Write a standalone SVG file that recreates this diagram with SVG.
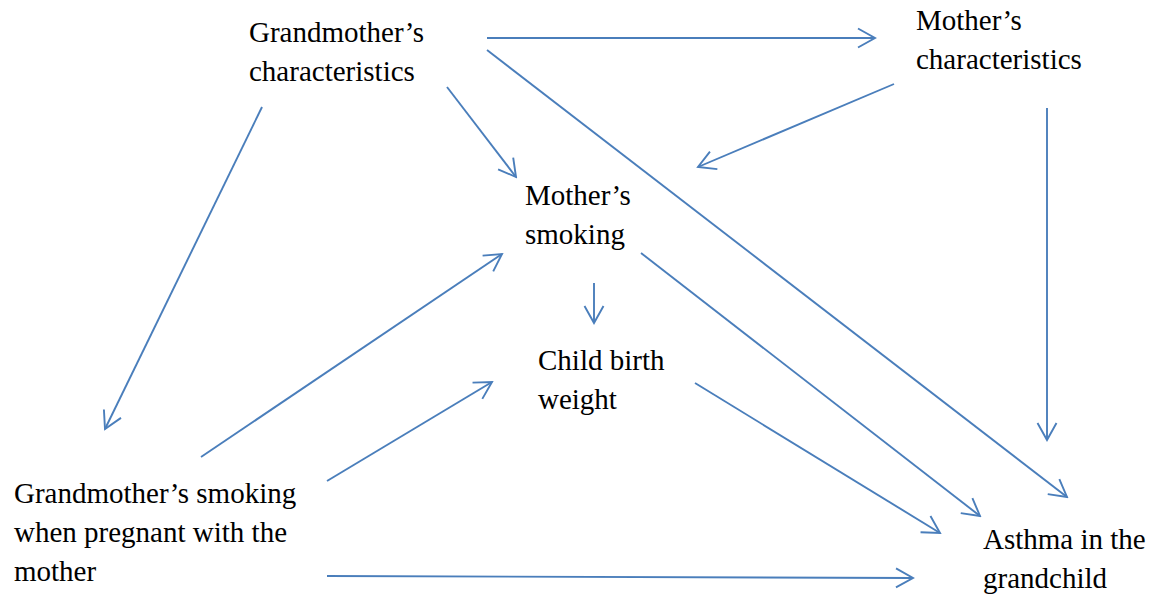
<svg xmlns="http://www.w3.org/2000/svg" width="1155" height="596" viewBox="0 0 1155 596">
  <style>
    .lbl { font-family: "Liberation Serif", "Times New Roman", serif; font-size: 29px; fill: #000; }
    .edge { stroke: #4a7ebb; stroke-width: 1.9; fill: none; marker-end: url(#arrow); }
  </style>
  <defs>
    <marker id="arrow" markerUnits="userSpaceOnUse" viewBox="-20 -12 22 24" refX="0" refY="0" markerWidth="22" markerHeight="24" orient="auto">
      <path d="M-17,-9.5 L0,0 L-17,9.5" fill="none" stroke="#4a7ebb" stroke-width="1.9"/>
    </marker>
  </defs>
  <rect width="1155" height="596" fill="#fff"/>

  <g id="connectors">
    <line class="edge" x1="487" y1="38" x2="875" y2="38"/>
    <line class="edge" x1="487" y1="50" x2="1067" y2="497"/>
    <line class="edge" x1="447" y1="87" x2="516" y2="177"/>
    <line class="edge" x1="262" y1="107" x2="105" y2="429"/>
    <line class="edge" x1="894" y1="84" x2="698" y2="167"/>
    <line class="edge" x1="1047" y1="108" x2="1047" y2="440"/>
    <line class="edge" x1="594" y1="283" x2="594" y2="323"/>
    <line class="edge" x1="641" y1="253" x2="980" y2="516"/>
    <line class="edge" x1="201" y1="457" x2="502" y2="254"/>
    <line class="edge" x1="327" y1="481" x2="492" y2="382"/>
    <line class="edge" x1="695" y1="383" x2="940" y2="533"/>
    <line class="edge" x1="327" y1="576" x2="913" y2="578"/>
  </g>

  <g id="grandmother-characteristics">
    <text class="lbl" x="249" y="42">Grandmother’s</text>
    <text class="lbl" x="249" y="81">characteristics</text>
  </g>
  <g id="mother-characteristics">
    <text class="lbl" x="916" y="30">Mother’s</text>
    <text class="lbl" x="916" y="69">characteristics</text>
  </g>
  <g id="mother-smoking">
    <text class="lbl" x="525" y="205">Mother’s</text>
    <text class="lbl" x="525" y="244">smoking</text>
  </g>
  <g id="child-birth-weight">
    <text class="lbl" x="538" y="370">Child birth</text>
    <text class="lbl" x="538" y="409">weight</text>
  </g>
  <g id="grandmother-smoking">
    <text class="lbl" x="14" y="503">Grandmother’s smoking</text>
    <text class="lbl" x="14" y="542">when pregnant with the</text>
    <text class="lbl" x="14" y="581">mother</text>
  </g>
  <g id="asthma">
    <text class="lbl" x="983" y="549">Asthma in the</text>
    <text class="lbl" x="983" y="588">grandchild</text>
  </g>
</svg>
